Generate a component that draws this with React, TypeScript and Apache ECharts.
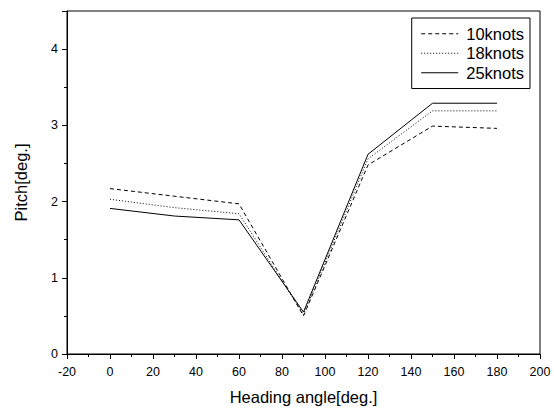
import React, { useEffect, useRef } from "react";
import * as echarts from "echarts";

const headings = [0, 30, 60, 90, 120, 150, 180];
const knots10 = [2.17, 2.07, 1.97, 0.5, 2.48, 2.99, 2.96];
const knots18 = [2.03, 1.92, 1.84, 0.52, 2.56, 3.19, 3.19];
const knots25 = [1.91, 1.81, 1.76, 0.55, 2.62, 3.29, 3.29];
const seriesNames = ["10knots", "18knots", "25knots"];

export default function App() {
  const ref = useRef<HTMLDivElement>(null);
  useEffect(() => {
    if (!ref.current) return;
    const chart = echarts.init(ref.current, null, { renderer: "svg" });
    const font = "'Liberation Sans', Arial, sans-serif";
    const pair = (vals: number[]) => headings.map((h, i) => [h, vals[i]]);
    const mk = (name: string, vals: number[], type: any) => ({
      name,
      type: "line",
      data: pair(vals),
      symbol: "none",
      lineStyle: { color: "#000", width: 1, type },
      itemStyle: { color: "#000" },
    });
    chart.setOption({
      animation: false,
      backgroundColor: "#fff",
      grid: {
        left: 67,
        right: 14,
        top: 11,
        bottom: 57,
        show: true,
        borderColor: "#000",
        borderWidth: 1,
      },
      legend: {
        orient: "vertical",
        right: 24,
        top: 18,
        itemWidth: 37,
        itemHeight: 4,
        itemGap: 0,
        padding: [6, 6, 6, 9],
        borderColor: "#000",
        borderWidth: 1,
        borderRadius: 0,
        itemStyle: { opacity: 0 },
        lineStyle: { width: 1 },
        textStyle: { fontFamily: font, fontSize: 16.5, color: "#000", lineHeight: 19.5, padding: [0, 0, 0, 3] },
        data: seriesNames,
      },
      xAxis: {
        type: "value",
        min: -20,
        max: 200,
        interval: 20,
        name: "Heading angle[deg.]",
        nameLocation: "middle",
        nameGap: 34,
        nameTextStyle: { fontFamily: font, fontSize: 16.5, color: "#000" },
        axisLine: { show: true, onZero: false, lineStyle: { color: "#000", width: 1 } },
        axisTick: { show: true, inside: false, length: 5, lineStyle: { color: "#000" } },
        minorTick: { show: true, splitNumber: 2, length: 3, lineStyle: { color: "#000" } },
        splitLine: { show: false },
        axisLabel: { fontFamily: font, fontSize: 12.5, color: "#000", margin: 11 },
      },
      yAxis: {
        type: "value",
        min: 0,
        max: 4.5,
        interval: 1,
        name: "Pitch[deg.]",
        nameLocation: "middle",
        nameGap: 38,
        nameTextStyle: { fontFamily: font, fontSize: 16.5, color: "#000" },
        axisLine: { show: true, onZero: false, lineStyle: { color: "#000", width: 1 } },
        axisTick: { show: true, inside: false, length: 5, lineStyle: { color: "#000" } },
        minorTick: { show: true, splitNumber: 2, length: 3, lineStyle: { color: "#000" } },
        splitLine: { show: false },
        axisLabel: {
          fontFamily: font,
          fontSize: 12.5,
          color: "#000",
          margin: 9,
          formatter: (v: number) => (Number.isInteger(v) ? String(v) : ""),
        },
      },
      series: [
        mk(seriesNames[0], knots10, [4, 3]),
        mk(seriesNames[1], knots18, [1, 2]),
        mk(seriesNames[2], knots25, "solid"),
      ],
    });
    return () => chart.dispose();
  }, []);
  return (
    <div
      ref={ref}
      style={{ position: "fixed", left: 0, top: 0, width: 554, height: 411 }}
    />
  );
}
